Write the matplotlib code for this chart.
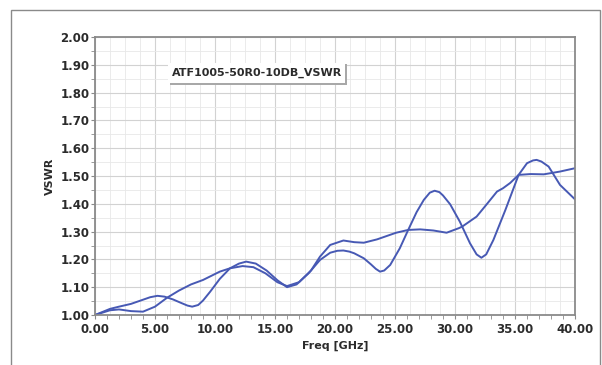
import numpy as np
import matplotlib
matplotlib.use('Agg')
import matplotlib.pyplot as plt
from matplotlib.patches import Rectangle
from matplotlib.ticker import MultipleLocator, FormatStrFormatter

# curve 1: the flatter trace
freq_1 = [0.0, 1.25, 2.0, 3.0, 4.0, 5.0, 6.0, 7.0, 8.0, 9.0, 10.4, 11.25, 12.3, 13.2,
          14.2, 15.2, 16.0, 17.0, 18.0, 18.75, 19.6, 20.7, 21.6, 22.4, 23.5, 25.1, 26.1,
          27.1, 28.2, 29.3, 30.3, 30.6, 31.8, 32.6, 33.5, 34.0, 34.6, 35.3, 36.3, 37.4,
          38.75, 40.0]
vswr_1 = [1.000, 1.017, 1.020, 1.014, 1.012, 1.030, 1.062, 1.088, 1.110, 1.126, 1.156,
          1.168, 1.176, 1.172, 1.150, 1.118, 1.104, 1.118, 1.160, 1.210, 1.252, 1.268,
          1.262, 1.260, 1.272, 1.296, 1.306, 1.308, 1.304, 1.296, 1.312, 1.318, 1.354,
          1.396, 1.444, 1.456, 1.475, 1.504, 1.507, 1.506, 1.516, 1.528]

# curve 2: the trace with larger ripple
freq_2 = [0.0, 1.25, 2.0, 3.0, 4.0, 4.6, 5.2, 5.8, 6.5, 7.2, 7.7, 8.1, 8.6, 9.0, 9.6,
          10.4, 11.25, 12.0, 12.6, 13.4, 14.3, 15.2, 16.0, 16.8, 17.8, 18.75, 19.6,
          20.2, 20.7, 21.2, 21.6, 22.4, 23.0, 23.4, 23.75, 24.1, 24.6, 25.4, 26.1, 26.8,
          27.4, 27.9, 28.3, 28.7, 29.0, 29.6, 30.4, 31.25, 31.8, 32.2, 32.6, 33.2, 34.2,
          35.3, 36.0, 36.5, 36.8, 37.2, 37.8, 38.75, 40.0]
vswr_2 = [1.000, 1.022, 1.030, 1.040, 1.055, 1.064, 1.069, 1.066, 1.056, 1.043, 1.034,
          1.030, 1.036, 1.052, 1.084, 1.130, 1.168, 1.185, 1.192, 1.185, 1.160, 1.125,
          1.100, 1.110, 1.150, 1.198, 1.224, 1.231, 1.232, 1.228, 1.222, 1.204, 1.182,
          1.166, 1.156, 1.160, 1.180, 1.240, 1.306, 1.370, 1.414, 1.440, 1.447, 1.442,
          1.430, 1.398, 1.336, 1.258, 1.218, 1.206, 1.218, 1.270, 1.378, 1.504, 1.546,
          1.556, 1.558, 1.552, 1.534, 1.468, 1.416]

label_text = 'ATF1005-50R0-10DB_VSWR'
line_color = '#4759b4'
text_color = '#2b2b2b'

W, H = 602, 365
fig = plt.figure(figsize=(W / 100, H / 100), dpi=100)
ax = fig.add_axes([95 / W, 1 - 315 / H, 480 / W, 278 / H])

ax.plot(freq_1, vswr_1, color=line_color, lw=1.4)
ax.plot(freq_2, vswr_2, color=line_color, lw=1.4)

ax.set_xlim(0, 40)
ax.set_ylim(1.0, 2.0)
ax.xaxis.set_major_locator(MultipleLocator(5))
ax.xaxis.set_minor_locator(MultipleLocator(1))
ax.yaxis.set_major_locator(MultipleLocator(0.1))
ax.yaxis.set_minor_locator(MultipleLocator(0.05))
ax.xaxis.set_major_formatter(FormatStrFormatter('%.2f'))
ax.yaxis.set_major_formatter(FormatStrFormatter('%.2f'))

# grid: majors plus lighter subdivisions (x every 1.25, y every 0.05)
ax.grid(which='major', color='#d2d2d2', lw=0.8)
ax.grid(which='minor', axis='y', color='#e8e8e8', lw=0.6)
ax.vlines(np.arange(1.25, 40, 1.25), 1.0, 2.0, color='#e8e8e8', lw=0.6, zorder=0.5)
ax.set_axisbelow(True)
for s in ax.spines.values():
    s.set_color('#8a8a8a')
    s.set_linewidth(1.3)
ax.tick_params(which='both', direction='out', color='#8a8a8a', length=3)
ax.tick_params(axis='both', labelsize=8.5, labelcolor=text_color)
ax.tick_params(axis='x', pad=3)
ax.tick_params(axis='y', pad=1)
for lab in ax.get_xticklabels() + ax.get_yticklabels():
    lab.set_fontweight('bold')

ax.set_xlabel('Freq [GHz]', fontsize=8, fontweight='bold', color=text_color, labelpad=3)
ax.set_ylabel('VSWR', fontsize=8, fontweight='bold', color=text_color, labelpad=4)

# trace name box with a drop shadow
fig.patches.append(Rectangle((170 / W, 1 - 85 / H), 177 / W, 21 / H,
                             transform=fig.transFigure, fc='#a8a8a8', ec='none', zorder=5))
fig.patches.append(Rectangle((168 / W, 1 - 83 / H), 177 / W, 20 / H,
                             transform=fig.transFigure, fc='white', ec='none', zorder=6))
fig.text(257 / W, 1 - 73 / H, label_text, ha='center', va='center', fontsize=8,
         fontweight='bold', color=text_color, zorder=7)

# outer frame of the picture
fig.patches.append(Rectangle((11 / W, -0.1), 589 / W, 1.1 - 10 / H,
                             transform=fig.transFigure, fc='none', ec='#8a8a8a', lw=1.0))

fig.savefig('out.png', dpi=100)
